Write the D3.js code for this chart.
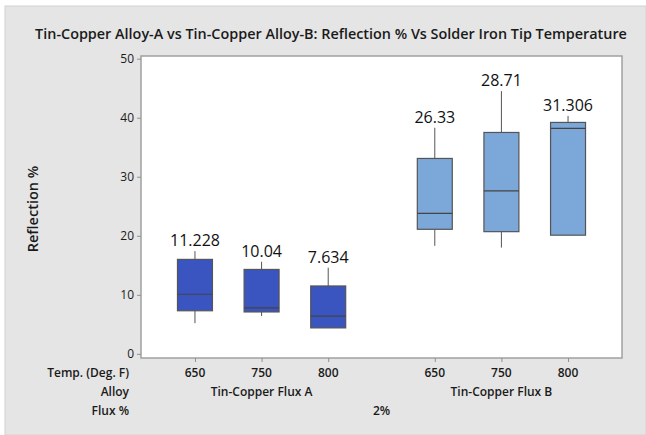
<!DOCTYPE html>
<html>
<head>
<meta charset="utf-8">
<script src="https://cdn.jsdelivr.net/npm/d3@7"></script>
<style>
  body { margin: 0; background: #fff; }
  svg { display: block; font-family: 'Open Sans', sans-serif; }
</style>
</head>
<body>
<svg id="chart" width="646" height="435"></svg>
<script>
const width = 646
const height = 435
const margin = { top: 56, right: 24, bottom: 77, left: 141 }

// categories
const fluxLevels = ['2%']
const alloys = ['Tin-Copper Flux A', 'Tin-Copper Flux B']
const temps = ['650', '750', '800']

// box stats per alloy, in temp order
const whiskerLow = [[5.2, 6.4, 4.4], [18.3, 18.0, 20.1]]
const q1 = [[7.3, 7.1, 4.4], [21.1, 20.7, 20.1]]
const median = [[10.1, 7.8, 6.4], [23.8, 27.6, 38.2]]
const q3 = [[16.0, 14.3, 11.5], [33.1, 37.5, 39.2]]
const whiskerHigh = [[17.4, 15.6, 14.6], [38.3, 44.5, 40.3]]
const meanLabels = [['11.228', '10.04', '7.634'], ['26.33', '28.71', '31.306']]

const yTicks = [0, 10, 20, 30, 40, 50]
const fills = ['#3a54c0', '#7ba7d9']

const groupGap = 0.6
const boxWidth = 0.525

const svg = d3.select('#chart')

// outer panel
svg.append('rect')
  .attr('x', 5).attr('y', 6)
  .attr('width', width - 5).attr('height', height - 6)
  .attr('fill', '#e5e5e5')
  .attr('stroke', '#d2d2d2')

const rows = []
alloys.forEach((alloy, gi) => {
  temps.forEach((t, ti) => {
    rows.push({
      alloy, gi, temp: t,
      slot: gi * (temps.length + groupGap) + ti,
      lo: whiskerLow[gi][ti],
      q1: q1[gi][ti],
      med: median[gi][ti],
      q3: q3[gi][ti],
      hi: whiskerHigh[gi][ti],
      label: meanLabels[gi][ti]
    })
  })
})

const lastSlot = d3.max(rows, d => d.slot)
const x = d3.scaleLinear()
  .domain([-0.81, lastSlot + 0.81])
  .range([margin.left, width - margin.right])

const y = d3.scaleLinear()
  .domain([-0.7, 50.45])
  .range([height - margin.bottom, margin.top])

// plot area
svg.append('rect')
  .attr('x', x.range()[0]).attr('y', y.range()[1])
  .attr('width', x.range()[1] - x.range()[0])
  .attr('height', y.range()[0] - y.range()[1])
  .attr('fill', '#fff')
  .attr('stroke', '#a0a0a0')
  .attr('stroke-width', 1.5)

// title
svg.append('text')
  .attr('x', 331).attr('y', 39)
  .attr('text-anchor', 'middle')
  .attr('font-size', '14.4px')
  .attr('font-weight', 600)
  .attr('fill', '#1a1a1a')
  .text('Tin-Copper Alloy-A vs Tin-Copper Alloy-B: Reflection % Vs Solder Iron Tip Temperature')

// y axis
const yAxis = svg.append('g')
  .attr('transform', `translate(${x.range()[0]},0)`)
  .call(d3.axisLeft(y).tickValues(yTicks).tickSize(4).tickPadding(3))
yAxis.select('.domain').remove()
yAxis.selectAll('line').attr('stroke', '#909090')
yAxis.selectAll('text')
  .attr('font-family', "'Open Sans', sans-serif")
  .attr('font-size', '12px')
  .attr('fill', '#1a1a1a')

svg.append('text')
  .attr('transform', `translate(38, ${(y.range()[0] + y.range()[1]) / 2 + 2}) rotate(-90)`)
  .attr('text-anchor', 'middle')
  .attr('font-size', '14.5px')
  .attr('font-weight', 600)
  .attr('fill', '#1a1a1a')
  .text('Reflection %')

// x ticks
const xAxis = svg.append('g')
  .attr('transform', `translate(0,${y.range()[0]})`)
  .call(d3.axisBottom(x).tickValues(rows.map(d => d.slot)).tickSize(4).tickFormat(''))
xAxis.select('.domain').remove()
xAxis.selectAll('line').attr('stroke', '#909090')

// boxes
const boxes = svg.append('g')
  .selectAll('g')
  .data(rows)
  .enter()
  .append('g')

const halfW = x(boxWidth / 2) - x(0)

boxes.append('line')
  .attr('x1', d => x(d.slot)).attr('x2', d => x(d.slot))
  .attr('y1', d => y(d.lo)).attr('y2', d => y(d.hi))
  .attr('stroke', '#555')
  .attr('stroke-width', 1)

boxes.append('rect')
  .attr('x', d => x(d.slot) - halfW)
  .attr('width', halfW * 2)
  .attr('y', d => y(d.q3))
  .attr('height', d => y(d.q1) - y(d.q3))
  .attr('fill', d => fills[d.gi])
  .attr('stroke', '#555')
  .attr('stroke-width', 1.2)

boxes.append('line')
  .attr('x1', d => x(d.slot) - halfW).attr('x2', d => x(d.slot) + halfW)
  .attr('y1', d => y(d.med)).attr('y2', d => y(d.med))
  .attr('stroke', '#444')
  .attr('stroke-width', 1.2)

boxes.append('text')
  .attr('x', d => x(d.slot))
  .attr('y', d => y(d.hi) - 5)
  .attr('text-anchor', 'middle')
  .attr('font-size', '16px')
  .attr('fill', '#111')
  .text(d => d.label)

// category rows under the axis
const labelX = 129
const rowY = [377, 396, 415]
const rowTitles = ['Temp. (Deg. F)', 'Alloy', 'Flux %']
svg.append('g')
  .selectAll('text')
  .data(rowTitles)
  .enter()
  .append('text')
  .attr('x', labelX)
  .attr('y', (d, i) => rowY[i])
  .attr('text-anchor', 'end')
  .attr('font-size', '12px')
  .attr('font-weight', 600)
  .attr('fill', '#1a1a1a')
  .text(d => d)

const catStyle = sel => sel
  .attr('text-anchor', 'middle')
  .attr('font-size', '12px')
  .attr('font-weight', 600)
  .attr('fill', '#1a1a1a')

svg.append('g').selectAll('text')
  .data(rows)
  .enter()
  .append('text')
  .attr('x', d => x(d.slot))
  .attr('y', rowY[0])
  .call(catStyle)
  .text(d => d.temp)

svg.append('g').selectAll('text')
  .data(alloys)
  .enter()
  .append('text')
  .attr('x', (d, gi) => x(gi * (temps.length + groupGap) + (temps.length - 1) / 2))
  .attr('y', rowY[1])
  .call(catStyle)
  .text(d => d)

svg.append('g').selectAll('text')
  .data(fluxLevels)
  .enter()
  .append('text')
  .attr('x', (x.range()[0] + x.range()[1]) / 2)
  .attr('y', rowY[2])
  .call(catStyle)
  .text(d => d)
</script>
</body>
</html>
